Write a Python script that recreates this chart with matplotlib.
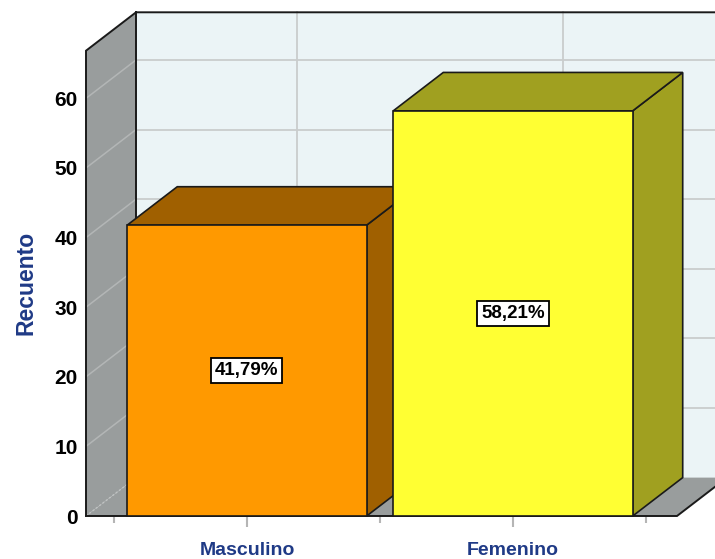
import matplotlib
matplotlib.use("Agg")
import matplotlib.pyplot as plt
from matplotlib.patches import Polygon

plt.rcParams['font.family'] = ['Liberation Sans', 'DejaVu Sans']

# ---- data ----
categories = ['Masculino', 'Femenino']
values = [41.79, 58.21]
pct_labels = ['41,79%', '58,21%']
yticks = [0, 10, 20, 30, 40, 50, 60]

# ---- style ----
front_colors = ['#FF9900', '#FFFF33']
shade_colors = ['#A06000', '#A0A020']
wall_gray = '#999d9d'
back_wall = '#ebf4f6'
grid_back = '#c9cdcd'
grid_side = '#b3b6b6'
navy = '#1f3a86'
edge = '#1a1a1a'

W, H = 715, 559
fig = plt.figure(figsize=(W / 100, H / 100), dpi=100)
ax = fig.add_axes([86 / W, 43 / H, (677 - 86) / W, (516 - 50.7) / H])

XL, XR = -0.605, 1.6165
YT = 66.85
ax.set_xlim(XL, XR)
ax.set_ylim(0, YT)
DX = 50 / 266.0            # depth offset in x (data units)
DY = 38.4 / ((516 - 50.7) / YT)  # depth offset in y (data units)
HW = 0.45                  # half bar width

def poly(pts, fc, ec='none', lw=1.0, z=1, ls='-'):
    p = Polygon(pts, closed=True, facecolor=fc, edgecolor=ec, linewidth=lw,
                zorder=z, clip_on=False, joinstyle='miter', linestyle=ls)
    ax.add_patch(p)

# back wall
poly([(XL + DX, DY), (XR + DX, DY), (XR + DX, YT + DY), (XL + DX, YT + DY)], back_wall, z=1)
# left wall
poly([(XL, 0), (XL + DX, DY), (XL + DX, YT + DY), (XL, YT)], wall_gray, z=1)
# floor
poly([(XL, 0), (XR, 0), (XR + DX, DY), (XL + DX, DY)], wall_gray, z=1)

# gridlines on back wall & left wall
for v in yticks[1:]:
    ax.plot([XL + DX, XR + DX], [v + DY, v + DY], color=grid_back, lw=1.3, zorder=2, clip_on=False)
    ax.plot([XL, XL + DX], [v, v + DY], color=grid_side, lw=1.1, zorder=2, clip_on=False)
ax.plot([XL, XL + DX], [0, DY], color='#c0c3c3', lw=1.0, ls=(0, (1.5, 1.5)), zorder=2, clip_on=False)
for i in range(len(categories)):
    ax.plot([i + DX, i + DX], [DY, YT + DY], color=grid_back, lw=1.3, zorder=2, clip_on=False)

# wall outlines
lw_o = 1.4
ax.plot([XL, XL, XL + DX, XR + DX + 1], [0, YT, YT + DY, YT + DY], color=edge, lw=lw_o, zorder=3,
        clip_on=False, solid_joinstyle='miter')
ax.plot([XL + DX, XL + DX], [DY, YT + DY], color=edge, lw=lw_o, zorder=3, clip_on=False)
ax.plot([XL, XR, XR + DX], [0, 0, DY], color=edge, lw=lw_o, zorder=3, clip_on=False,
        solid_joinstyle='miter')

# bars
for i, (v, fc, sc) in enumerate(zip(values, front_colors, shade_colors)):
    z = 4 + i
    l, r = i - HW, i + HW
    poly([(r, 0), (r + DX, DY), (r + DX, v + DY), (r, v)], sc, edge, 1.2, z)
    poly([(l, v), (r, v), (r + DX, v + DY), (l + DX, v + DY)], sc, edge, 1.2, z)
    poly([(l, 0), (r, 0), (r, v), (l, v)], fc, edge, 1.2, z)
    ax.text(i, v / 2, pct_labels[i], ha='center', va='center', fontsize=13.5, fontweight='bold',
            color='black', zorder=10,
            bbox=dict(boxstyle='square,pad=0.2', fc='white', ec='black', lw=1.3))

# axes / ticks
for s in ax.spines.values():
    s.set_visible(False)
ax.set_yticks(yticks)
ax.set_yticklabels([str(t) for t in yticks], fontsize=15, fontweight='bold')
ax.tick_params(axis='y', length=0, pad=6)
ax.set_xticks(range(len(categories)))
ax.set_xticklabels(categories, fontsize=14, fontweight='bold', color=navy)
ax.set_xticks([-0.5, 0.5, 1.5], minor=True)
ax.tick_params(axis='x', which='major', length=8, width=1.5, color='#b5b5b5', pad=11)
ax.tick_params(axis='x', which='minor', length=5, width=1.5, color='#b5b5b5')
ax.set_ylabel('Recuento', fontsize=16.5, fontweight='bold', color=navy, labelpad=12)

fig.savefig('out.png', dpi=100)
